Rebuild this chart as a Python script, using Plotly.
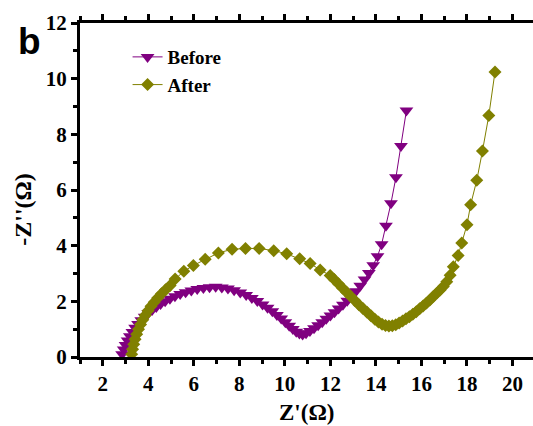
import plotly.graph_objects as go

# Nyquist data: Z' (real part, ohm) and -Z'' (imaginary part, ohm)
before_zre = [2.85, 2.92, 3.00, 3.09, 3.19, 3.30, 3.42, 3.55, 3.69, 3.84, 4.00, 4.17, 4.35,
              4.54, 4.74, 4.95, 5.17, 5.40, 5.64, 5.89, 6.15, 6.42, 6.69, 6.96, 7.23, 7.50,
              7.77, 8.04, 8.30, 8.55, 8.79, 9.02, 9.24, 9.45, 9.65, 9.84, 10.02, 10.19, 10.35,
              10.50, 10.64, 10.78, 10.93, 11.10, 11.28, 11.46, 11.64, 11.82, 12.00, 12.18,
              12.36, 12.55, 12.74, 12.93, 13.12, 13.31, 13.50, 13.69, 13.88, 14.07, 14.25,
              14.44, 14.66, 14.88, 15.10, 15.34]
before_zim = [0.10, 0.27, 0.43, 0.59, 0.75, 0.90, 1.05, 1.19, 1.32, 1.45, 1.57, 1.69, 1.80,
              1.90, 2.00, 2.09, 2.18, 2.26, 2.33, 2.39, 2.44, 2.48, 2.51, 2.52, 2.50, 2.46,
              2.40, 2.32, 2.23, 2.12, 2.01, 1.89, 1.77, 1.64, 1.51, 1.38, 1.25, 1.12, 1.01,
              0.91, 0.84, 0.81, 0.85, 0.93, 1.03, 1.14, 1.25, 1.37, 1.49, 1.61,
              1.74, 1.88, 2.02, 2.18, 2.36, 2.56, 2.78, 3.02, 3.30, 3.62, 4.05,
              4.72, 5.52, 6.46, 7.58, 8.86]

after_zre = [3.27, 3.31, 3.36, 3.42, 3.49, 3.57, 3.66, 3.76, 3.87, 3.99, 4.12, 4.26, 4.41,
             4.58, 4.76, 4.96, 5.18, 5.56, 5.98, 6.50, 7.08, 7.68, 8.27, 8.87, 9.51, 10.08,
             10.65, 11.11, 11.55, 11.99, 12.17, 12.35, 12.53, 12.71, 12.89, 13.07, 13.25,
             13.43, 13.61, 13.78, 13.95, 14.11, 14.27, 14.42, 14.57, 14.72, 14.87, 15.02,
             15.17, 15.32, 15.47, 15.62, 15.77, 15.92, 16.07, 16.22, 16.37, 16.52, 16.67,
             16.82, 16.96, 17.11, 17.26, 17.40, 17.61, 17.77, 18.00, 18.16, 18.43, 18.68,
             18.96, 19.23]
after_zim = [0.10, 0.28, 0.46, 0.64, 0.82, 1.00, 1.17, 1.34, 1.50, 1.66, 1.82, 1.97, 2.12,
             2.27, 2.42, 2.57, 2.80, 3.08, 3.29, 3.51, 3.74, 3.87, 3.90, 3.90, 3.82, 3.71,
             3.53, 3.36, 3.13, 2.93, 2.78, 2.63, 2.48, 2.33, 2.18, 2.03, 1.88,
             1.74, 1.61, 1.48, 1.36, 1.26, 1.18, 1.13, 1.11, 1.12, 1.16, 1.22,
             1.29, 1.37, 1.45, 1.54, 1.63, 1.73, 1.83, 1.94, 2.05, 2.17, 2.29,
             2.41, 2.53, 2.70, 2.94, 3.24, 3.65, 4.10, 4.75, 5.47, 6.35, 7.40,
             8.68, 10.24]

x_ticks = [2, 4, 6, 8, 10, 12, 14, 16, 18, 20]
y_ticks = [0, 2, 4, 6, 8, 10, 12]

PURPLE = "#800080"
OLIVE = "#808000"
SERIF = "Liberation Serif"


def bold(values):
    return [f"<b>{v}</b>" for v in values]


def axis_style(tick_values, **extra):
    style = dict(
        showline=True, linecolor="#000000", linewidth=3,
        ticks="outside", ticklen=6, tickwidth=2.5, tickcolor="#000000",
        showgrid=False, zeroline=False,
        tickmode="array", tickvals=tick_values, ticktext=bold(tick_values),
        tickfont=dict(family=SERIF, size=21, color="#000000"),
        minor=dict(ticks="outside", ticklen=4, tickwidth=2.5, tickcolor="#000000",
                   dtick=1, tick0=1),
    )
    style.update(extra)
    return style


fig = go.Figure()
fig.add_trace(go.Scatter(
    x=before_zre, y=before_zim, name="<b>Before</b>", mode="lines+markers",
    line=dict(color=PURPLE, width=1),
    marker=dict(symbol="triangle-down", size=12, color=PURPLE),
    legendgroup="b",
))
fig.add_trace(go.Scatter(
    x=after_zre, y=after_zim, name="<b>After</b>", mode="lines+markers",
    line=dict(color=OLIVE, width=1),
    marker=dict(symbol="diamond", size=10, color=OLIVE),
    legendgroup="a",
))

fig.update_layout(
    template="none",
    width=533, height=426,
    margin=dict(l=80, r=0, t=23, b=69),
    paper_bgcolor="white", plot_bgcolor="white",
    xaxis=axis_style(x_ticks, range=[1, 20.9], mirror="allticks"),
    yaxis=axis_style(y_ticks, range=[0, 12]),
    showlegend=True,
    legend=dict(
        x=0.105, y=0.955, xanchor="left", yanchor="top",
        bgcolor="rgba(0,0,0,0)", tracegroupgap=0,
        font=dict(family=SERIF, size=19, color="#000000"),
    ),
    annotations=[
        dict(text="<b>Z'(Ω)</b>", xref="paper", yref="paper", x=0.5, y=-0.166,
             xanchor="center", yanchor="middle", showarrow=False,
             font=dict(family=SERIF, size=23, color="#000000")),
        dict(text="<b>-Z''(Ω)</b>", xref="paper", yref="paper", x=-0.125, y=0.442,
             xanchor="center", yanchor="middle", showarrow=False, textangle=-90,
             font=dict(family=SERIF, size=24, color="#000000")),
        dict(text="<b>b</b>", xref="paper", yref="paper", x=-0.112, y=0.945,
             xanchor="center", yanchor="middle", showarrow=False,
             font=dict(family="Liberation Sans", size=37, color="#000000")),
    ],
)

fig.write_html("out.html", config={"displayModeBar": False})
